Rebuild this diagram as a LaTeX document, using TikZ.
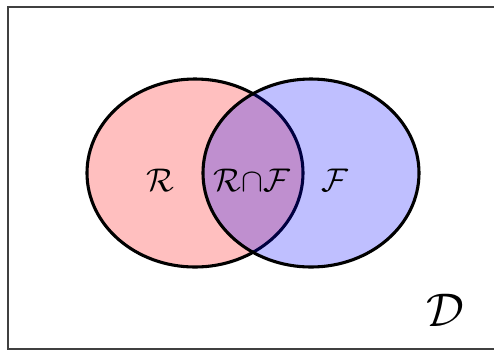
\documentclass[tikz,border=0pt]{standalone}
\usepackage{xcolor}
\usepackage{tikz}
\usetikzlibrary{positioning}
\usepackage{amsmath}
\usepackage{amssymb}
\tikzset{
  setfill/.style={draw=black,line width=2.2pt,fill opacity=0.25},
  setlabel/.style={inner sep=0pt,scale=1.35,font=\fontsize{16}{19}\selectfont},
  domlabel/.style={inner sep=0pt,scale=1.35,font=\fontsize{32}{38}\selectfont},
  frameline/.style={draw=black!75,line width=1pt},
}
\begin{document}
\begin{tikzpicture}[x=0.025cm,y=-0.025cm]
  \clip (0,0) rectangle (494,351);
  \draw[frameline] (8,7) rectangle (510,349);
  \draw[setfill,fill=red] (195,173) ellipse [x radius=108,y radius=94];
  \draw[setfill,fill=blue] (311,173) ellipse [x radius=108,y radius=94];
  \node[setlabel] (r) at (160,180) {$\mathcal{R}$};
  \node[setlabel] (rf) at (252,180) {$\mathcal{R}{\cap}\mathcal{F}$};
  \node[setlabel] (f) at (335,180) {$\mathcal{F}$};
  \node[domlabel] (d) at (445,310) {$\mathcal{D}$};
\end{tikzpicture}
\end{document}
